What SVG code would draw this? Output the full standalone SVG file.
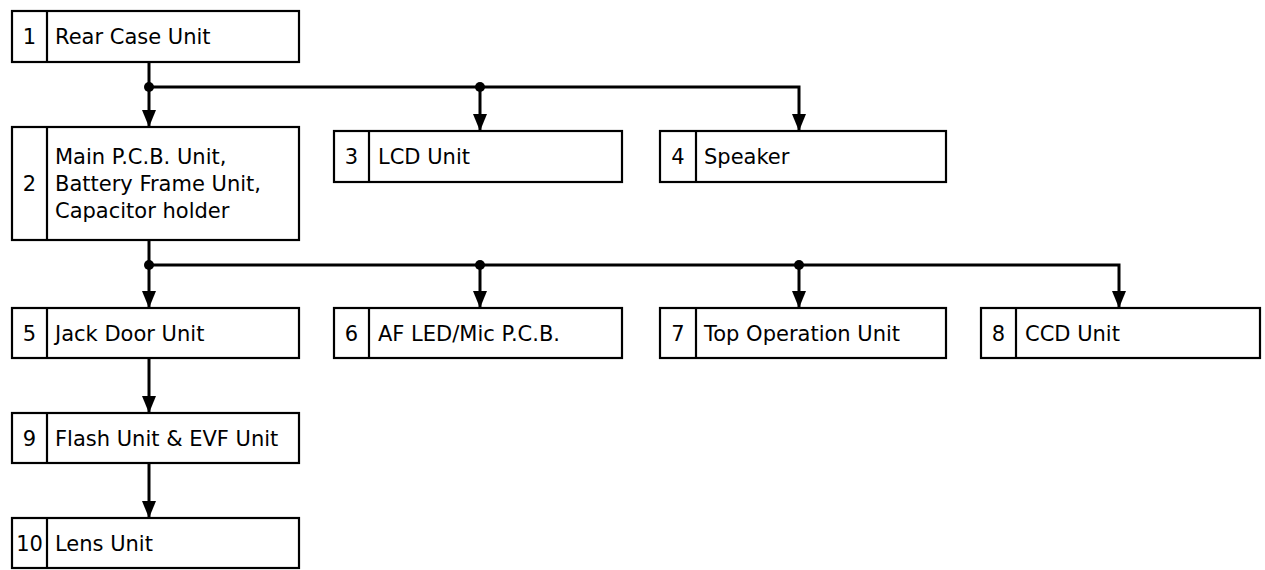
<svg xmlns="http://www.w3.org/2000/svg" width="1265" height="570" viewBox="0 0 1265 570">
<defs>
<style>
.box{fill:#fff;stroke:#000;stroke-width:2.2}
.div{stroke:#000;stroke-width:2.2}
.t{font-family:"DejaVu Sans","Liberation Sans",sans-serif;font-size:21px;fill:#000}
.n{text-anchor:middle}
.ln{fill:none;stroke:#000;stroke-width:3}
.dot{fill:#000}
</style>
<marker id="ah" markerWidth="17" markerHeight="14" refX="17" refY="7" orient="auto" markerUnits="userSpaceOnUse" viewBox="0 0 17 14">
<path d="M0,0 L17,7 L0,14 Z" fill="#000"/>
</marker>
</defs>
<rect width="1265" height="570" fill="#fff"/>
<g id="connectors">
<path class="ln" d="M149,62 V127" marker-end="url(#ah)"/>
<path class="ln" d="M149,87 H799 V131" marker-end="url(#ah)"/>
<path class="ln" d="M480,87 V131" marker-end="url(#ah)"/>
<circle class="dot" cx="149" cy="87" r="5"/>
<circle class="dot" cx="480" cy="87" r="5"/>
<path class="ln" d="M149,240 V308" marker-end="url(#ah)"/>
<path class="ln" d="M149,265 H1119 V308" marker-end="url(#ah)"/>
<path class="ln" d="M480,265 V308" marker-end="url(#ah)"/>
<path class="ln" d="M799,265 V308" marker-end="url(#ah)"/>
<circle class="dot" cx="149" cy="265" r="5"/>
<circle class="dot" cx="480" cy="265" r="5"/>
<circle class="dot" cx="799" cy="265" r="5"/>
<path class="ln" d="M149,358 V413" marker-end="url(#ah)"/>
<path class="ln" d="M149,463 V518" marker-end="url(#ah)"/>
</g>
<g id="node1">
<rect class="box" x="12" y="11" width="287" height="51"/>
<line class="div" x1="47" y1="11" x2="47" y2="62"/>
<text class="t n" x="29.5" y="44">1</text>
<text class="t" x="55" y="44">Rear Case Unit</text>
</g>
<g id="node2">
<rect class="box" x="12" y="127" width="287" height="113"/>
<line class="div" x1="47" y1="127" x2="47" y2="240"/>
<text class="t n" x="29.5" y="191">2</text>
<text class="t" x="55" y="164">Main P.C.B. Unit,</text>
<text class="t" x="55" y="191">Battery Frame Unit,</text>
<text class="t" x="55" y="218">Capacitor holder</text>
</g>
<g id="node3">
<rect class="box" x="334" y="131" width="288" height="51"/>
<line class="div" x1="369" y1="131" x2="369" y2="182"/>
<text class="t n" x="351.5" y="164">3</text>
<text class="t" x="378" y="164">LCD Unit</text>
</g>
<g id="node4">
<rect class="box" x="660" y="131" width="286" height="51"/>
<line class="div" x1="696" y1="131" x2="696" y2="182"/>
<text class="t n" x="678" y="164">4</text>
<text class="t" x="704" y="164">Speaker</text>
</g>
<g id="node5">
<rect class="box" x="12" y="308" width="287" height="50"/>
<line class="div" x1="47" y1="308" x2="47" y2="358"/>
<text class="t n" x="29.5" y="341">5</text>
<text class="t" x="55" y="341">Jack Door Unit</text>
</g>
<g id="node6">
<rect class="box" x="334" y="308" width="288" height="50"/>
<line class="div" x1="369" y1="308" x2="369" y2="358"/>
<text class="t n" x="351.5" y="341">6</text>
<text class="t" x="378" y="341">AF LED/Mic P.C.B.</text>
</g>
<g id="node7">
<rect class="box" x="660" y="308" width="286" height="50"/>
<line class="div" x1="696" y1="308" x2="696" y2="358"/>
<text class="t n" x="678" y="341">7</text>
<text class="t" x="704" y="341">Top Operation Unit</text>
</g>
<g id="node8">
<rect class="box" x="981" y="308" width="279" height="50"/>
<line class="div" x1="1016" y1="308" x2="1016" y2="358"/>
<text class="t n" x="998.5" y="341">8</text>
<text class="t" x="1025" y="341">CCD Unit</text>
</g>
<g id="node9">
<rect class="box" x="12" y="413" width="287" height="50"/>
<line class="div" x1="47" y1="413" x2="47" y2="463"/>
<text class="t n" x="29.5" y="446">9</text>
<text class="t" x="55" y="446">Flash Unit &amp; EVF Unit</text>
</g>
<g id="node10">
<rect class="box" x="12" y="518" width="287" height="50"/>
<line class="div" x1="47" y1="518" x2="47" y2="568"/>
<text class="t n" x="29.5" y="551">10</text>
<text class="t" x="55" y="551">Lens Unit</text>
</g>
</svg>
